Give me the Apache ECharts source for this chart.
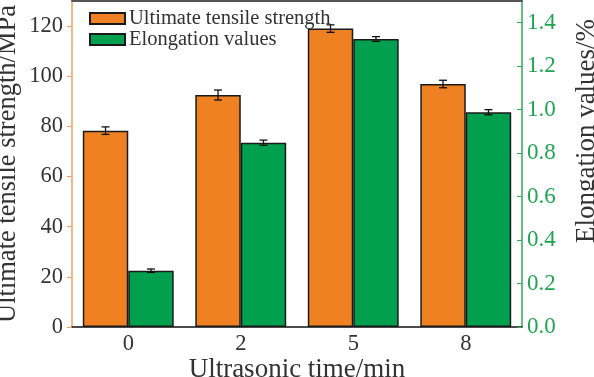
<!DOCTYPE html>
<html><head><meta charset="utf-8">
<script src="https://cdn.jsdelivr.net/npm/echarts@6/dist/echarts.min.js"></script>
<style>html,body{margin:0;padding:0;background:#fff}#c{width:594px;height:377px}</style>
</head><body><div id="c"></div>
<script>
const categories = ['0', '2', '5', '8'];
const strengthValues = [78.3, 92.5, 119.0, 96.9];
const strengthErrors = [1.5, 2.0, 1.5, 1.5];
const elongationValues = [0.259, 0.848, 1.325, 0.988];
const elongationErrors = [0.008, 0.012, 0.011, 0.012];
const seriesNames = ['Ultimate tensile strength', 'Elongation values'];

const FONT = "'Liberation Serif','Times New Roman',serif";
const ORANGE = '#F08122';
const GREEN = '#00A04F';
const BARW = 0.404;

function errRender(side) {
  return function (params, api) {
    const ci = api.value(0), v = api.value(1), e = api.value(2);
    const band = api.size([1, 0])[0];
    const x = api.coord([ci, v])[0] + side * band * BARW / 2;
    const yTop = api.coord([ci, v + e])[1];
    const yBot = api.coord([ci, v - e])[1];
    const cap = 4;
    const st = { stroke: '#111', lineWidth: 1.3 };
    return { type: 'group', children: [
      { type: 'line', shape: { x1: x, y1: yTop, x2: x, y2: yBot }, style: st },
      { type: 'line', shape: { x1: x - cap, y1: yTop, x2: x + cap, y2: yTop }, style: st },
      { type: 'line', shape: { x1: x - cap, y1: yBot, x2: x + cap, y2: yBot }, style: st }
    ]};
  };
}

const chart = echarts.init(document.getElementById('c'), null, { renderer: 'canvas' });
chart.setOption({
  animation: false,
  textStyle: { fontFamily: FONT },
  grid: { left: 72, right: 72, top: 1, bottom: 50, containLabel: false, outerBoundsMode: 'none' },
  legend: {
    orient: 'vertical', left: 84, top: 3, itemWidth: 35, itemHeight: 11, itemGap: 0,
    icon: 'rect',
    data: seriesNames,
    textStyle: { fontFamily: FONT, fontSize: 20.5, color: '#333', padding: [0, 0, 0, -1] }
  },
  xAxis: [{
    type: 'category', data: categories,
    axisLine: { lineStyle: { color: '#111', width: 1.5 } },
    axisTick: { show: false },
    axisLabel: { fontFamily: FONT, fontSize: 22.5, color: '#333', margin: 6 },
    name: 'Ultrasonic time/min', nameLocation: 'middle', nameGap: 29, nameMoveOverlap: false,
    nameTextStyle: { fontFamily: FONT, fontSize: 27, color: '#333' }
  }, {
    type: 'category', data: categories, position: 'top',
    axisLine: { show: true, onZero: false, lineStyle: { color: '#555', width: 2 } },
    axisTick: { show: false }, axisLabel: { show: false }
  }],
  yAxis: [{
    type: 'value', min: 0, max: 130, interval: 20,
    splitLine: { show: false },
    axisLine: { show: true, lineStyle: { color: '#F5A060', width: 1.5 } },
    axisTick: { show: true, length: 5, lineStyle: { color: '#F5A060' } },
    axisLabel: { fontFamily: FONT, fontSize: 22.5, color: '#333', margin: 9, showMaxLabel: false },
    name: 'Ultimate tensile strength/MPa', nameLocation: 'middle', nameGap: 50, nameRotate: 90,
    nameMoveOverlap: false,
    nameTextStyle: { fontFamily: FONT, fontSize: 26.5, color: '#333' }
  }, {
    type: 'value', min: 0, max: 1.5, interval: 0.2, position: 'right',
    splitLine: { show: false },
    axisLine: { show: true, lineStyle: { color: '#2DAA5E', width: 1.5 } },
    axisTick: { show: true, inside: true, length: 5, lineStyle: { color: '#2DAA5E' } },
    axisLabel: { fontFamily: FONT, fontSize: 23, color: '#1FA552', margin: 5, showMaxLabel: false,
      formatter: v => v.toFixed(1) },
    name: 'Elongation values/%', nameLocation: 'middle', nameGap: 51, nameRotate: 90,
    nameMoveOverlap: false,
    nameTextStyle: { fontFamily: FONT, fontSize: 27, color: '#333', padding: [0, 0, 0, 66] }
  }],
  series: [{
    name: seriesNames[0], type: 'bar', yAxisIndex: 0, data: strengthValues,
    barWidth: (BARW * 100) + '%', barGap: '0%',
    itemStyle: { color: ORANGE, borderColor: '#1a1a1a', borderWidth: 1.5 }
  }, {
    name: seriesNames[1], type: 'bar', yAxisIndex: 1, data: elongationValues,
    barWidth: (BARW * 100) + '%', barGap: '0%',
    itemStyle: { color: GREEN, borderColor: '#1a1a1a', borderWidth: 1.5 }
  }, {
    type: 'custom', yAxisIndex: 0, z: 5,
    data: strengthValues.map((v, i) => [i, v, strengthErrors[i]]),
    renderItem: errRender(-1)
  }, {
    type: 'custom', yAxisIndex: 1, z: 5,
    data: elongationValues.map((v, i) => [i, v, elongationErrors[i]]),
    renderItem: errRender(1)
  }]
});
</script></body></html>
